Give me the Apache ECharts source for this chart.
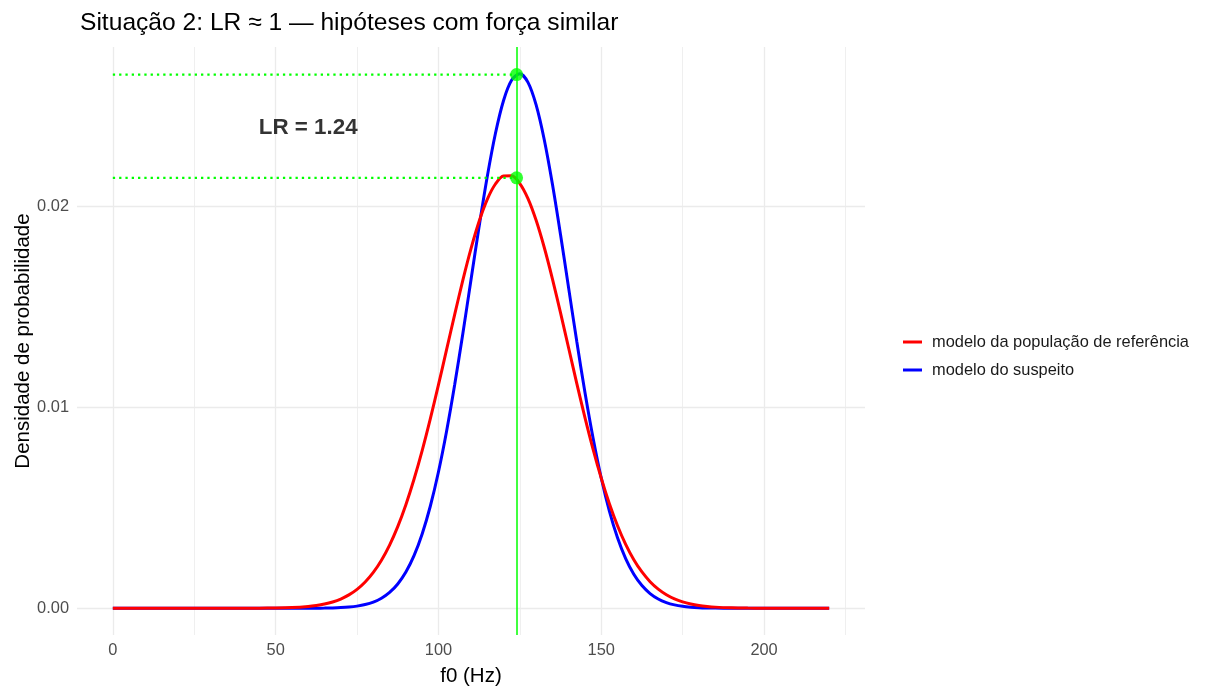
<!DOCTYPE html>
<html>
<head>
<meta charset="utf-8">
<script src="https://cdn.jsdelivr.net/npm/echarts@6/dist/echarts.min.js"></script>
<style>
  html, body { margin: 0; padding: 0; background: #ffffff; }
  #chart { width: 1205px; height: 689px; }
</style>
</head>
<body>
<div id="chart"></div>
<script>
// ---- data ----
const chartTitle = 'Situação 2: LR ≈ 1 — hipóteses com força similar';
const xAxisTitle = 'f0 (Hz)';
const yAxisTitle = 'Densidade de probabilidade';
const refName = 'modelo da população de referência';
const suspectName = 'modelo do suspeito';

const f0 = [0, 5, 10, 15, 20, 25, 30, 35, 40, 45, 50, 55, 60, 62.5, 65, 67.5, 70, 72.5, 75, 77.5, 80, 82.5, 85, 87.5, 90, 92.5, 95, 97.5, 100, 102.5, 105, 107.5, 110, 112.5, 115, 117.5, 120, 122.5, 125, 127.5, 130, 132.5, 135, 137.5, 140, 142.5, 145, 147.5, 150, 152.5, 155, 157.5, 160, 162.5, 165, 167.5, 170, 172.5, 175, 177.5, 180, 182.5, 185, 190, 195, 200, 205, 210, 215, 220];

const refDensity = [0, 0, 0, 0, 0, 0, 0, 0.0000002, 0.0000014, 0.0000044, 0.0000128, 0.000035, 0.000089, 0.000138, 0.00021, 0.000314, 0.000461, 0.000665, 0.000941, 0.001308, 0.001784, 0.002392, 0.003146, 0.004063, 0.005154, 0.006419, 0.007849, 0.009426, 0.011114, 0.012867, 0.014627, 0.016328, 0.017894, 0.019257, 0.02035, 0.021113, 0.021511, 0.021519, 0.021137, 0.020387, 0.019306, 0.017952, 0.016393, 0.014696, 0.012938, 0.011183, 0.009492, 0.00791, 0.006473, 0.005201, 0.004104, 0.003179, 0.002417, 0.001806, 0.001324, 0.000954, 0.000675, 0.000468, 0.000319, 0.000214, 0.00014, 0.000091, 0.000057, 0.000022, 0.0000077, 0.0000025, 0.0000008, 0.0000002, 0, 0];

const suspectDensity = [0, 0, 0, 0, 0, 0, 0, 0, 0, 0, 0, 0.0000005, 0.0000024, 0.0000048, 0.0000094, 0.000018, 0.0000336, 0.000061, 0.000107, 0.000184, 0.000308, 0.000499, 0.000787, 0.001208, 0.001803, 0.002619, 0.003697, 0.005077, 0.006779, 0.008809, 0.011131, 0.013676, 0.016346, 0.019003, 0.021484, 0.023625, 0.025269, 0.026285, 0.026594, 0.026168, 0.025046, 0.023314, 0.021107, 0.018585, 0.015918, 0.013258, 0.01074, 0.008463, 0.006484, 0.004835, 0.003505, 0.002471, 0.001694, 0.00113, 0.000733, 0.000463, 0.000284, 0.000169, 0.000098, 0.000056, 0.00003, 0.000016, 0.0000085, 0.0000021, 0, 0, 0, 0, 0, 0];

const observedF0 = 124;
const suspectAtObs = 0.02656;
const refAtObs = 0.02142;
const lrLabel = 'LR = 1.24';
const lrLabelPos = [60, 0.0239];

const xTicks = [0, 50, 100, 150, 200];
const yTicks = [0, 0.01, 0.02];
const xMajorGrid = [0, 50, 100, 150, 200];
const xMinorGrid = [25, 75, 125, 175, 225];
const yMajorGrid = [0, 0.01, 0.02];
const yMinorGrid = [0.005, 0.015, 0.025];

// ---- chart ----
const FONT = '"Liberation Sans", Arial, Helvetica, sans-serif';
const GRID_COLOR = '#EBEBEB';
const pairs = (xs, ys) => xs.map((x, i) => [x, ys[i]]);

const gridLines = [];
xMinorGrid.forEach(v => gridLines.push({ xAxis: v, lineStyle: { width: 0.8 } }));
yMinorGrid.forEach(v => gridLines.push({ yAxis: v, lineStyle: { width: 0.8 } }));
xMajorGrid.forEach(v => gridLines.push({ xAxis: v, lineStyle: { width: 1.3 } }));
yMajorGrid.forEach(v => gridLines.push({ yAxis: v, lineStyle: { width: 1.3 } }));

const chart = echarts.init(document.getElementById('chart'), null, { renderer: 'canvas' });
chart.setOption({
  animation: false,
  backgroundColor: '#ffffff',
  textStyle: { fontFamily: FONT },
  title: {
    text: chartTitle,
    left: 75, top: 6,
    textStyle: { fontFamily: FONT, fontSize: 24.6, fontWeight: 'normal', color: '#000000' }
  },
  grid: { left: 77, right: 340, top: 47, bottom: 54, containLabel: false, outerBoundsMode: 'none' },
  legend: {
    orient: 'vertical',
    left: 898, top: 329,
    icon: 'rect',
    itemWidth: 19, itemHeight: 3,
    itemGap: 12,
    data: [refName, suspectName],
    textStyle: { fontFamily: FONT, fontSize: 16.4, color: '#1A1A1A', padding: [0, 0, 0, 5] }
  },
  xAxis: {
    type: 'value', min: -11, max: 231,
    axisLine: { show: false }, axisTick: { show: false }, splitLine: { show: false },
    axisLabel: { customValues: xTicks, color: '#4D4D4D', fontSize: 16.4, margin: 7, fontFamily: FONT },
    name: xAxisTitle, nameLocation: 'middle', nameGap: 31, nameMoveOverlap: false,
    nameTextStyle: { fontFamily: FONT, fontSize: 20.5, color: '#000000' }
  },
  yAxis: {
    type: 'value', min: -0.00133, max: 0.02793,
    axisLine: { show: false }, axisTick: { show: false }, splitLine: { show: false },
    axisLabel: { customValues: yTicks, color: '#4D4D4D', fontSize: 16.4, margin: 8, fontFamily: FONT,
      formatter: v => v.toFixed(2) },
    name: yAxisTitle, nameLocation: 'middle', nameGap: 43, nameRotate: 90, nameMoveOverlap: false,
    nameTextStyle: { fontFamily: FONT, fontSize: 20.5, color: '#000000' }
  },
  series: [
    {
      name: '__grid', type: 'line', data: [], z: 0, silent: true,
      markLine: { z: 0, silent: true, symbol: ['none', 'none'], label: { show: false },
        lineStyle: { color: GRID_COLOR, type: 'solid' }, data: gridLines, animation: false }
    },
    {
      name: suspectName, type: 'line', data: pairs(f0, suspectDensity), showSymbol: false, z: 2,
      smooth: 0.3,
      color: '#0000FF', lineStyle: { color: '#0000FF', width: 3 }, silent: true
    },
    {
      name: refName, type: 'line', data: pairs(f0, refDensity), showSymbol: false, z: 3,
      smooth: 0.3,
      color: '#FF0000', lineStyle: { color: '#FF0000', width: 3 }, silent: true
    },
    {
      name: '__obsV', type: 'line', data: [], z: 4, silent: true,
      markLine: { z: 4, silent: true, symbol: ['none', 'none'], label: { show: false },
        lineStyle: { color: '#00FF00', width: 1.5, type: 'solid' }, data: [{ xAxis: observedF0 }], animation: false }
    },
    {
      name: '__dot1', type: 'line', data: [[0, suspectAtObs], [observedF0, suspectAtObs]], showSymbol: false, z: 4,
      lineStyle: { color: '#00FF00', width: 2.3, type: [2.3, 4] }, silent: true
    },
    {
      name: '__dot2', type: 'line', data: [[0, refAtObs], [observedF0, refAtObs]], showSymbol: false, z: 4,
      lineStyle: { color: '#00FF00', width: 2.3, type: [2.3, 4] }, silent: true
    },
    {
      name: '__pts', type: 'scatter', data: [[observedF0, suspectAtObs], [observedF0, refAtObs]], z: 5,
      symbolSize: 13, itemStyle: { color: '#00FF00' }, silent: true
    },
    {
      name: '__lr', type: 'scatter', data: [lrLabelPos], symbolSize: 0, z: 6, silent: true,
      label: { show: true, position: 'inside', formatter: lrLabel, fontFamily: FONT, fontSize: 22.4,
        fontWeight: 'bold', color: '#000000' }
    }
  ]
});
</script>
</body>
</html>
